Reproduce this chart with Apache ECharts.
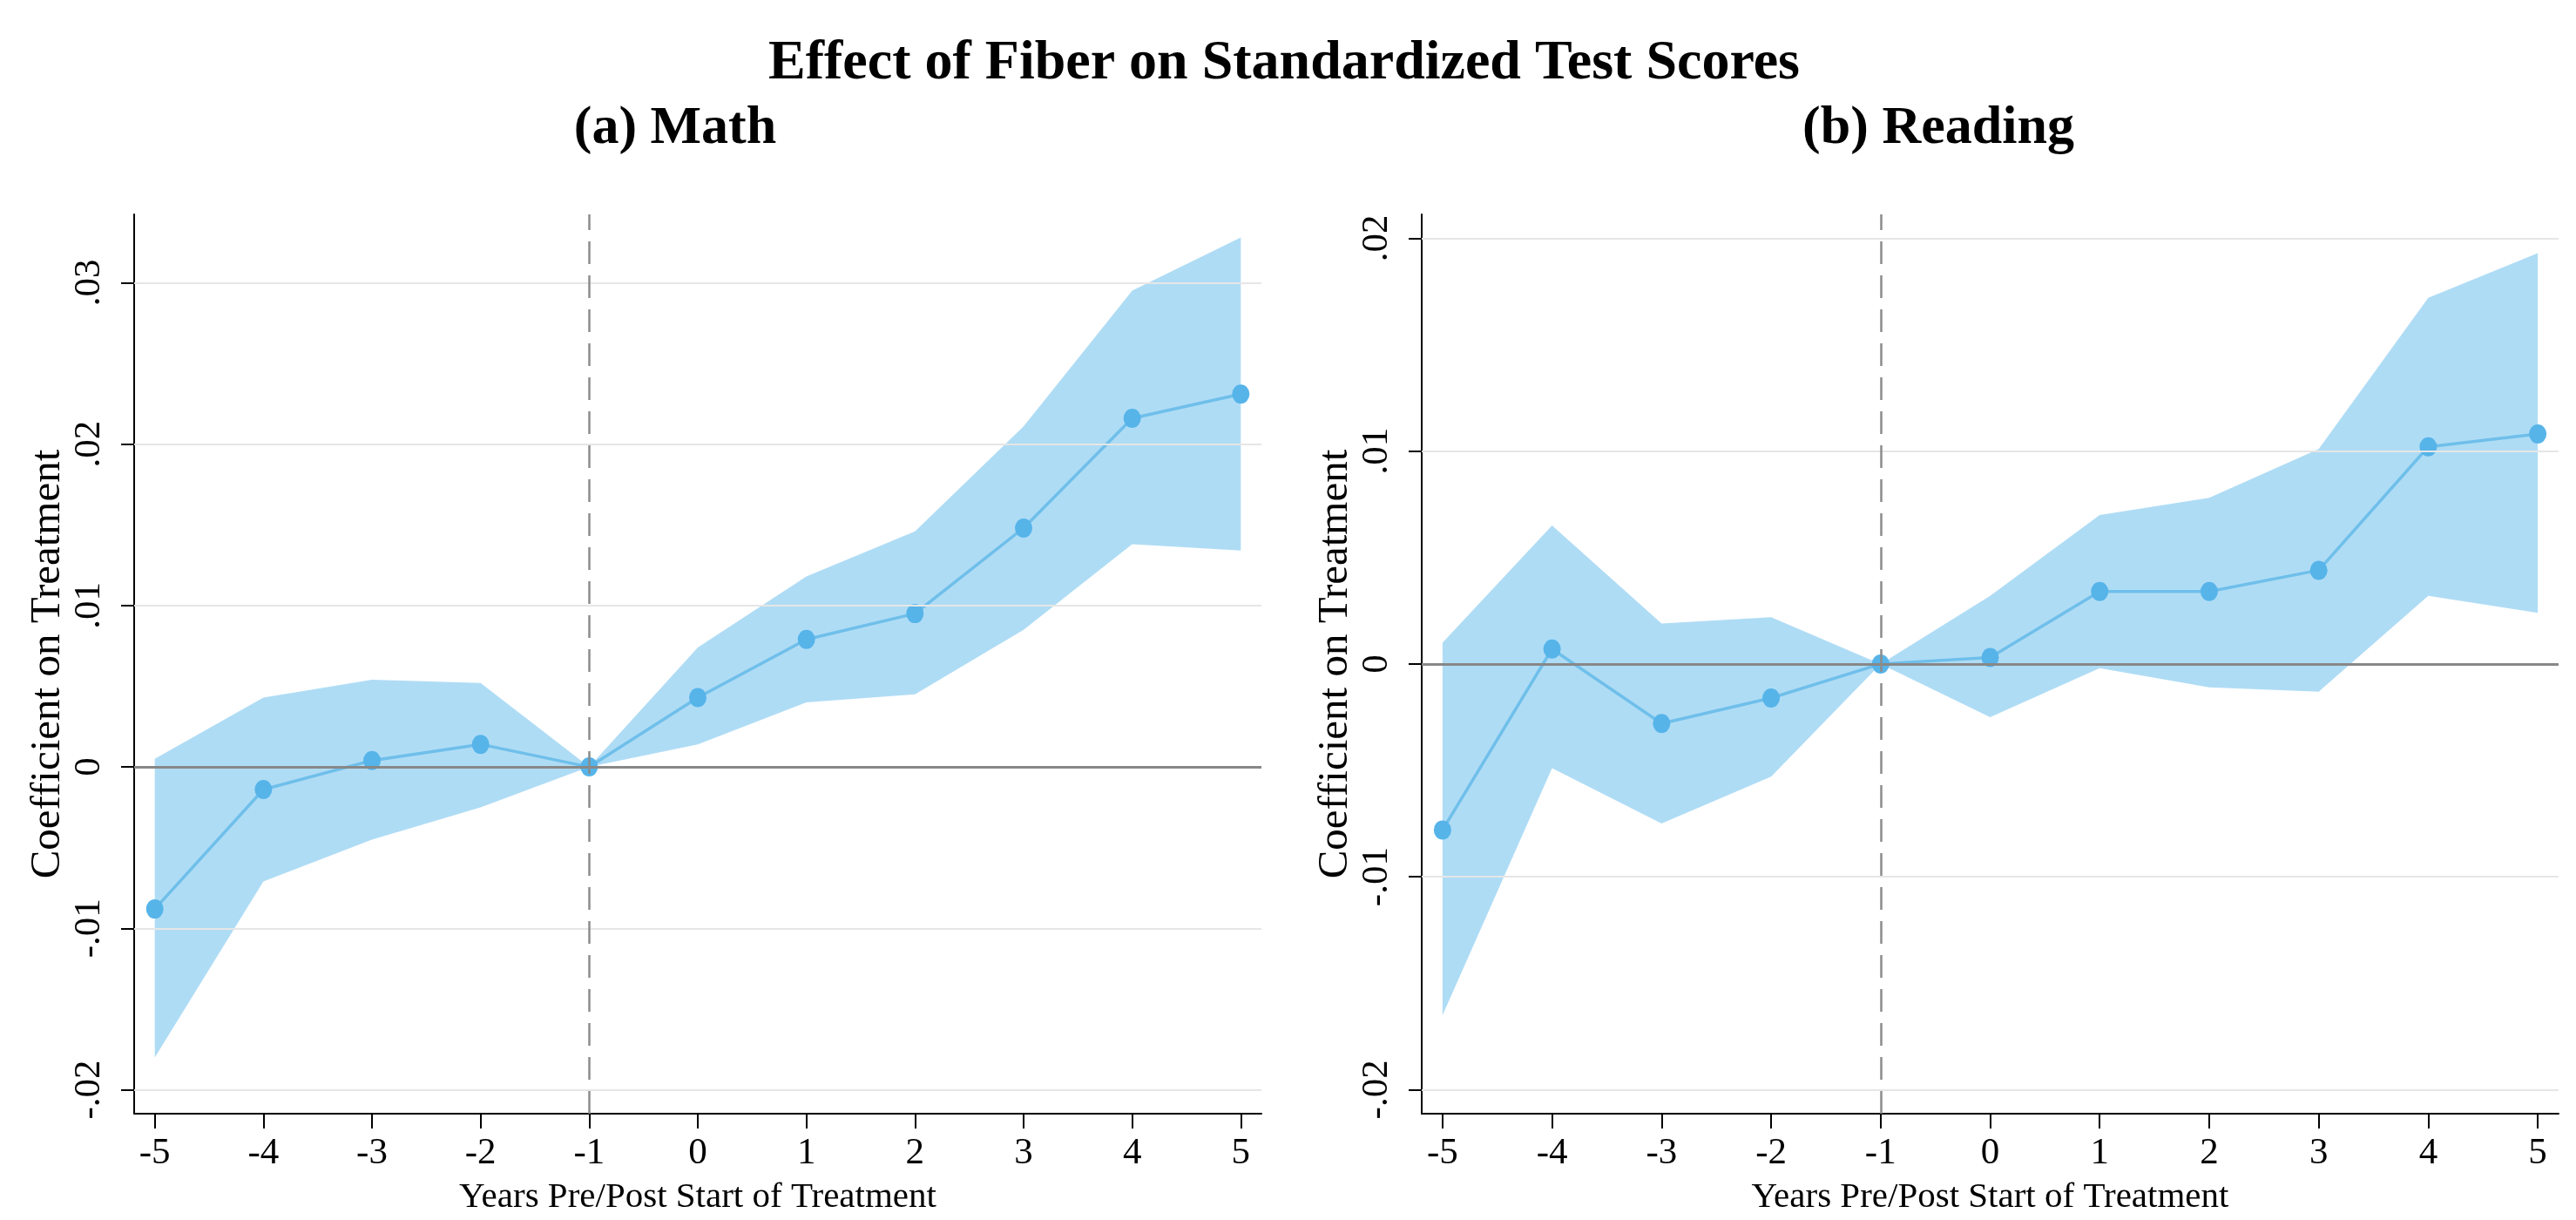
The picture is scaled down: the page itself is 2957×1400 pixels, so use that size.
<!DOCTYPE html>
<html>
<head>
<meta charset="utf-8">
<script src="https://cdn.jsdelivr.net/npm/echarts@6/dist/echarts.min.js"></script>
<style>
  html, body { margin: 0; padding: 0; background: #fff; }
  #chart { width: 2957px; height: 1400px; }
</style>
</head>
<body>
<div id="chart"></div>
<script>
const years = [-5, -4, -3, -2, -1, 0, 1, 2, 3, 4, 5];

const mathCoef = [-0.0088, -0.0014, 0.0004, 0.0014, 0, 0.0043, 0.0079, 0.0095, 0.0148, 0.0216, 0.0231];
const mathLower = [-0.0180, -0.0071, -0.0045, -0.0025, 0, 0.0014, 0.0040, 0.0045, 0.0085, 0.0138, 0.0134];
const mathUpper = [0.0005, 0.0043, 0.0054, 0.0052, 0, 0.0074, 0.0118, 0.0146, 0.0211, 0.0295, 0.0328];

const readCoef = [-0.0078, 0.0007, -0.0028, -0.0016, 0, 0.0003, 0.0034, 0.0034, 0.0044, 0.0102, 0.0108];
const readLower = [-0.0165, -0.0049, -0.0075, -0.0053, 0, -0.0025, -0.0002, -0.0011, -0.0013, 0.0032, 0.0024];
const readUpper = [0.0010, 0.0065, 0.0019, 0.0022, 0, 0.0032, 0.0070, 0.0078, 0.0101, 0.0172, 0.0193];

const mathTicks = [-0.02, -0.01, 0, 0.01, 0.02, 0.03];
const mathTickLabels = ["-.02", "-.01", "0", ".01", ".02", ".03"];
const readTicks = [-0.02, -0.01, 0, 0.01, 0.02];
const readTickLabels = ["-.02", "-.01", "0", ".01", ".02"];

const FONT = "Liberation Serif";
const BAND = "rgba(86,180,233,0.47)";
const DOT = "#56b4e9";
const LINE = "#6fbfea";

function labelFor(ticks, labels) {
  return (v) => {
    const i = ticks.findIndex((t) => Math.abs(t - v) < 1e-9);
    return i >= 0 ? labels[i] : "";
  };
}

function xAxisFor(gridIndex) {
  return {
    type: "value",
    gridIndex,
    min: -5.19,
    max: 5.19,
    name: "Years Pre/Post Start of Treatment",
    nameLocation: "middle",
    nameGap: 76,
    nameTextStyle: { fontFamily: FONT, fontSize: 41, color: "#000" },
    axisLine: { onZero: false, lineStyle: { color: "#000", width: 2 } },
    axisTick: { length: 17, customValues: years, lineStyle: { color: "#000", width: 2 } },
    axisLabel: {
      customValues: years,
      margin: 24,
      fontFamily: FONT,
      fontSize: 43,
      color: "#000",
    },
    splitLine: { show: false },
  };
}

function yAxisFor(gridIndex, min, max, ticks, labels) {
  return {
    type: "value",
    gridIndex,
    min,
    max,
    name: "Coefficient on Treatment",
    nameLocation: "middle",
    nameGap: 54,
    nameRotate: 90,
    nameTextStyle: { fontFamily: FONT, fontSize: 49, color: "#000" },
    axisLine: { onZero: false, lineStyle: { color: "#000", width: 2 } },
    axisTick: { length: 15, customValues: ticks, lineStyle: { color: "#000", width: 2 } },
    axisLabel: {
      customValues: ticks,
      rotate: 90,
      margin: 30,
      fontFamily: FONT,
      fontSize: 43,
      color: "#000",
      formatter: labelFor(ticks, labels),
    },
    splitLine: { show: false },
  };
}

// confidence band: one polygon, upper edge left→right then lower edge right→left
function bandRenderer(lower, upper) {
  return (params, api) => {
    if (params.dataIndex !== 0) return null;
    const top = years.map((x, i) => api.coord([x, upper[i]]));
    const bottom = years.map((x, i) => api.coord([x, lower[i]])).reverse();
    return {
      type: "polygon",
      shape: { points: top.concat(bottom) },
      style: { fill: BAND },
    };
  };
}

function panelSeries(idx, coef, lower, upper, ticks) {
  const grid = ticks.filter((t) => t !== 0);
  return [
    {
      type: "line",
      xAxisIndex: idx,
      yAxisIndex: idx,
      data: [],
      silent: true,
      z: 1,
      markLine: {
        silent: true,
        symbol: "none",
        label: { show: false },
        data: [
          ...grid.map((t) => ({ yAxis: t, lineStyle: { color: "#e6e6e6", width: 2, type: "solid" } })),
          { yAxis: 0, lineStyle: { color: "#888888", width: 3, type: "solid" } },
          { xAxis: -1, lineStyle: { color: "#8c8c8c", width: 2.5, type: [26, 13] } },
        ],
      },
    },
    {
      type: "custom",
      xAxisIndex: idx,
      yAxisIndex: idx,
      data: years.map((x, i) => [x, lower[i], upper[i]]),
      encode: { x: 0, y: [1, 2] },
      renderItem: bandRenderer(lower, upper),
      silent: true,
      z: 2,
    },
    {
      type: "line",
      xAxisIndex: idx,
      yAxisIndex: idx,
      data: years.map((x, i) => [x, coef[i]]),
      symbol: "circle",
      symbolSize: [20, 22],
      itemStyle: { color: DOT },
      lineStyle: { color: LINE, width: 3.5 },
      z: 3,
    },
  ];
}

const chart = echarts.init(document.getElementById("chart"));
chart.setOption({
  animation: false,
  backgroundColor: "#fff",
  graphic: [
    {
      type: "text",
      x: 1474,
      y: 73,
      style: {
        text: "Effect of Fiber on Standardized Test Scores",
        font: 'bold 64px "Liberation Serif"',
        fill: "#000",
        textAlign: "center",
        textVerticalAlign: "middle",
      },
    },
    {
      type: "text",
      x: 775,
      y: 148,
      style: {
        text: "(a) Math",
        font: 'bold 62px "Liberation Serif"',
        fill: "#000",
        textAlign: "center",
        textVerticalAlign: "middle",
      },
    },
    {
      type: "text",
      x: 2225,
      y: 148,
      style: {
        text: "(b) Reading",
        font: 'bold 62px "Liberation Serif"',
        fill: "#000",
        textAlign: "center",
        textVerticalAlign: "middle",
      },
    },
  ],
  grid: [
    { left: 154, top: 246, width: 1294, height: 1232 },
    { left: 1632, top: 246, width: 1305, height: 1232 },
  ],
  xAxis: [xAxisFor(0), xAxisFor(1)],
  yAxis: [
    yAxisFor(0, -0.02148, 0.03423, mathTicks, mathTickLabels),
    yAxisFor(1, -0.02113, 0.02112, readTicks, readTickLabels),
  ],
  series: [
    ...panelSeries(0, mathCoef, mathLower, mathUpper, mathTicks),
    ...panelSeries(1, readCoef, readLower, readUpper, readTicks),
  ],
});
</script>
</body>
</html>
